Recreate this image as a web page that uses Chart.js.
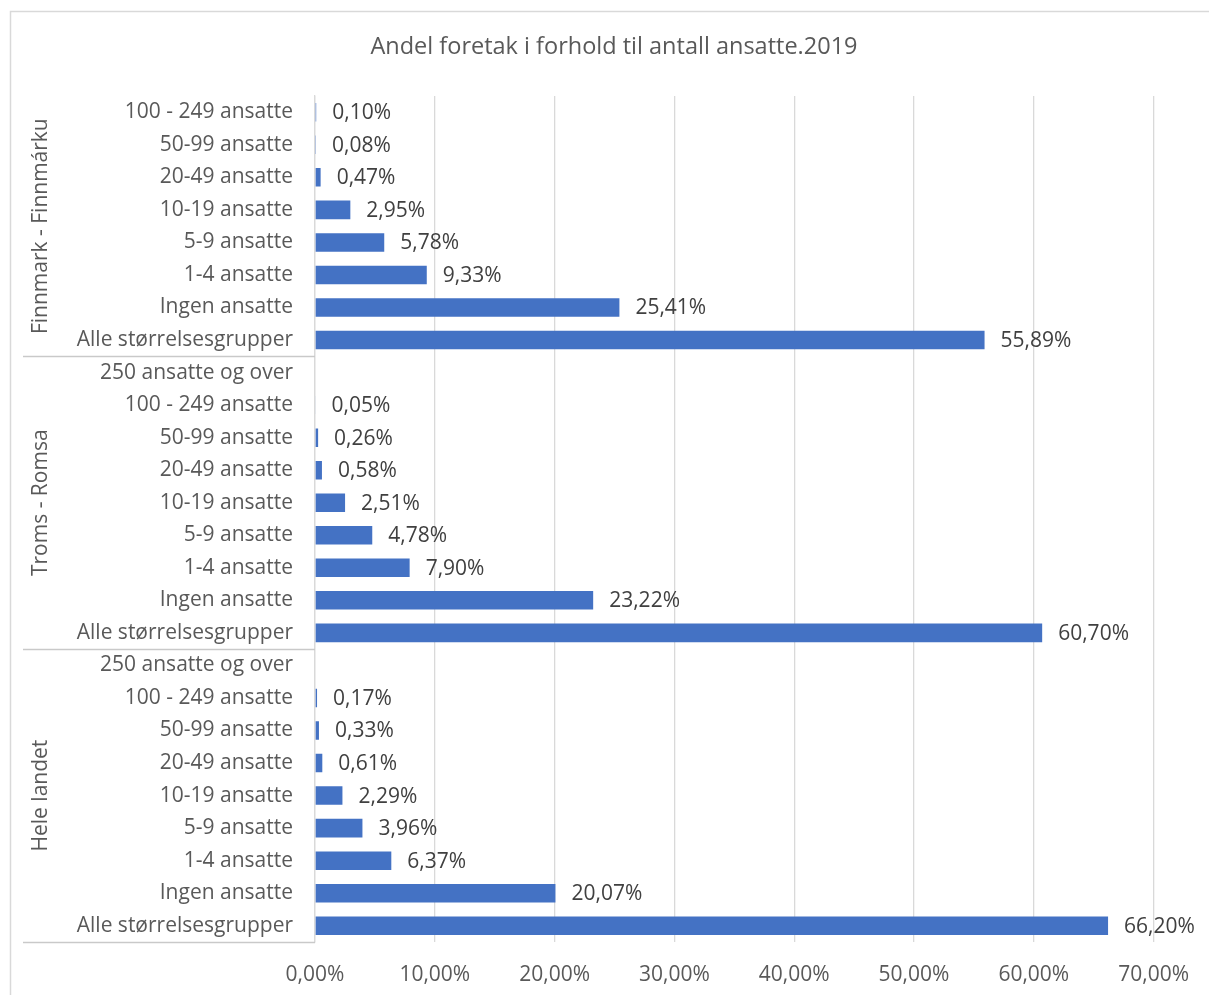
<!DOCTYPE html>
<html>
<head>
<meta charset="utf-8">
<script src="https://cdn.jsdelivr.net/npm/chart.js@4.4.0/dist/chart.umd.min.js"></script>
<style>
  html, body { margin: 0; padding: 0; background: #fff; }
  #wrap { width: 1209px; height: 995px; }
</style>
</head>
<body>
<div id="wrap"><canvas id="grafAnsatte"></canvas></div>
<script>
const tittel = 'Andel foretak i forhold til antall ansatte.2019';
const grupper = ['Finnmark - Finnmárku', 'Troms - Romsa', 'Hele landet'];

// kategorier og verdier (prosent), ovenfra og ned
const katFinnmark = ['100 - 249 ansatte', '50-99 ansatte', '20-49 ansatte', '10-19 ansatte', '5-9 ansatte', '1-4 ansatte', 'Ingen ansatte', 'Alle størrelsesgrupper'];
const katTroms = ['250 ansatte og over', '100 - 249 ansatte', '50-99 ansatte', '20-49 ansatte', '10-19 ansatte', '5-9 ansatte', '1-4 ansatte', 'Ingen ansatte', 'Alle størrelsesgrupper'];
const katLandet = ['250 ansatte og over', '100 - 249 ansatte', '50-99 ansatte', '20-49 ansatte', '10-19 ansatte', '5-9 ansatte', '1-4 ansatte', 'Ingen ansatte', 'Alle størrelsesgrupper'];

const verdierFinnmark = [0.10, 0.08, 0.47, 2.95, 5.78, 9.33, 25.41, 55.89];
const verdierTroms = [null, 0.05, 0.26, 0.58, 2.51, 4.78, 7.90, 23.22, 60.70];
const verdierLandet = [null, 0.17, 0.33, 0.61, 2.29, 3.96, 6.37, 20.07, 66.20];

const xMin = 0, xMax = 70, xSteg = 10;

const FONT = "'Open Sans', sans-serif";
const gruppeKat = [katFinnmark, katTroms, katLandet];
const etiketter = [].concat(katFinnmark, katTroms, katLandet);
const verdier = [].concat(verdierFinnmark, verdierTroms, verdierLandet);

function prosent(v) {
    return v.toFixed(2).replace('.', ',') + '%';
}

// ramme og tittel (tittelen er sentrert i rammen, ikke i plottet)
const rammePlugin = {
    id: 'ramme',
    beforeDraw(chart) {
        const ctx = chart.ctx;
        ctx.save();
        ctx.fillStyle = '#fff';
        ctx.fillRect(0, 0, chart.width, chart.height);
        ctx.strokeStyle = '#d9d9d9';
        ctx.lineWidth = 1.5;
        ctx.strokeRect(10.5, 11.5, chart.width, chart.height);

        ctx.font = '23.5px ' + FONT;
        ctx.fillStyle = '#595959';
        ctx.textAlign = 'center';
        ctx.textBaseline = 'middle';
        ctx.fillText(tittel, 614, 47);
        ctx.restore();
    }
};

// verdier ved enden av stolpene
const verdiPlugin = {
    id: 'verdier',
    afterDatasetsDraw(chart) {
        const ctx = chart.ctx;
        const meta = chart.getDatasetMeta(0);
        ctx.save();
        ctx.font = '21px ' + FONT;
        ctx.fillStyle = '#404040';
        ctx.textAlign = 'left';
        ctx.textBaseline = 'middle';
        meta.data.forEach((bar, i) => {
            const v = chart.data.datasets[0].data[i];
            if (v === null || v === undefined) return;
            ctx.fillText(prosent(v), bar.x + 16, bar.y + 1);
        });
        ctx.restore();
    }
};

// gruppe-etiketter (rotert) og skillelinjer til venstre
const gruppePlugin = {
    id: 'grupper',
    afterDraw(chart) {
        const ctx = chart.ctx;
        const y = chart.scales.y;
        const band = y.getPixelForValue(1) - y.getPixelForValue(0);
        let start = 0;
        ctx.save();
        gruppeKat.forEach((kat, g) => {
            const slutt = start + kat.length - 1;
            const topp = y.getPixelForValue(start) - band / 2;
            const bunn = y.getPixelForValue(slutt) + band / 2;

            ctx.strokeStyle = '#c9c9c9';
            ctx.lineWidth = 1.5;
            ctx.beginPath();
            ctx.moveTo(23, Math.round(bunn) + 0.5);
            ctx.lineTo(chart.chartArea.left, Math.round(bunn) + 0.5);
            ctx.stroke();

            ctx.save();
            ctx.translate(41, (topp + bunn) / 2);
            ctx.rotate(-Math.PI / 2);
            ctx.font = '21px ' + FONT;
            ctx.fillStyle = '#595959';
            ctx.textAlign = 'center';
            ctx.textBaseline = 'middle';
            ctx.fillText(grupper[g], 0, 0);
            ctx.restore();

            start = slutt + 1;
        });
        ctx.restore();
    }
};

new Chart(document.getElementById('grafAnsatte'), {
    type: 'bar',
    data: {
        labels: etiketter,
        datasets: [{
            data: verdier,
            backgroundColor: '#4472C4',
            barPercentage: 0.57,
            categoryPercentage: 1
        }]
    },
    options: {
        indexAxis: 'y',
        responsive: true,
        maintainAspectRatio: false,
        animation: false,
        layout: { padding: { left: 0, right: 54, top: 96, bottom: 0 } },
        plugins: {
            legend: { display: false },
            tooltip: { enabled: false },
            title: { display: false }
        },
        scales: {
            x: {
                min: xMin,
                max: xMax,
                ticks: {
                    stepSize: xSteg,
                    color: '#595959',
                    font: { family: FONT, size: 21 },
                    padding: 20,
                    maxRotation: 0,
                    callback: v => prosent(v)
                },
                grid: { color: '#d9d9d9', lineWidth: 1.3, drawTicks: false },
                border: { display: false },
                afterFit(scale) { scale.height = 53; }
            },
            y: {
                ticks: {
                    color: '#595959',
                    font: { family: FONT, size: 21 },
                    padding: 22,
                    autoSkip: false
                },
                grid: { display: false, drawTicks: false },
                border: { display: true, color: '#d9d9d9', width: 1.3 },
                afterFit(scale) { scale.width = 315; }
            }
        }
    },
    plugins: [rammePlugin, verdiPlugin, gruppePlugin]
});
</script>
</body>
</html>
